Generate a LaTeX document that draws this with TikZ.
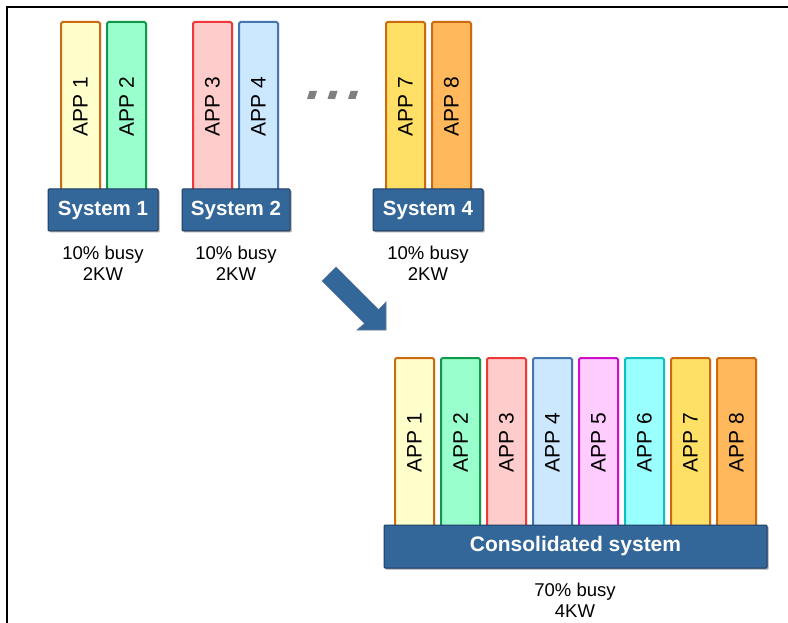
\documentclass[tikz,border=0pt]{standalone}
\usepackage{fontspec}
\setmainfont{Liberation Sans}
\usetikzlibrary{shadows}
\definecolor{sysblue}{HTML}{336699}
\definecolor{sysedge}{HTML}{1F3D66}
\definecolor{fA}{HTML}{FFFFCC}\definecolor{dA}{HTML}{CC6A10}
\definecolor{fB}{HTML}{99FFCC}\definecolor{dB}{HTML}{10994A}
\definecolor{fC}{HTML}{FFCCCC}\definecolor{dC}{HTML}{F03838}
\definecolor{fD}{HTML}{CCE8FF}\definecolor{dD}{HTML}{4477B0}
\definecolor{fE}{HTML}{FFCCFF}\definecolor{dE}{HTML}{CC10CC}
\definecolor{fF}{HTML}{99FFFF}\definecolor{dF}{HTML}{10C0C0}
\definecolor{fG}{HTML}{FFE066}\definecolor{dG}{HTML}{CC6A10}
\definecolor{fH}{HTML}{FFB85C}\definecolor{dH}{HTML}{CC6A10}
\definecolor{dotgray}{HTML}{7F7F7F}
\tikzset{
  appbar/.style={draw, line width=2pt, rounded corners=1.5pt, minimum width=39pt,
    minimum height=169pt, inner sep=0pt, anchor=north,
    drop shadow={shadow xshift=1.2pt, shadow yshift=-0.8pt, fill=black, opacity=0.3},
    font=\fontsize{21}{25}\selectfont},
  sysbox/.style={draw=sysedge, line width=1pt, fill=sysblue, text=white, inner sep=0pt,
    rounded corners=1pt,
    drop shadow={shadow xshift=1.5pt, shadow yshift=-1.5pt, fill=black, opacity=0.35},
    font=\bfseries\fontsize{20.5}{24}\selectfont},
  loadtext/.style={align=center, inner sep=0pt, font=\fontsize{18.5}{21}\selectfont},
  dotmark/.style={fill=dotgray},
  bigarrow/.style={fill=sysblue, draw=sysedge!70, line width=0.6pt}
}
\newcommand{\apptext}[1]{\rotatebox{90}{APP #1}}
\begin{document}
\begin{tikzpicture}[x=1pt,y=-1pt]
\useasboundingbox (0,0) rectangle (788,623);
\fill[white] (0,0) rectangle (788,623);
% frame
\draw[line width=1.5pt] (7,623) -- (7,7) -- (788,7);

% top row bars
\node[appbar, fill=fA, draw=dA] (t1) at (80.5,21) {\apptext{1}};
\node[appbar, fill=fB, draw=dB] (t2) at (126.5,21) {\apptext{2}};
\node[appbar, fill=fC, draw=dC] (t3) at (212.5,21) {\apptext{3}};
\node[appbar, fill=fD, draw=dD] (t4) at (258.5,21) {\apptext{4}};
\node[appbar, fill=fG, draw=dG] (t7) at (405.5,21) {\apptext{7}};
\node[appbar, fill=fH, draw=dH] (t8) at (451.5,21) {\apptext{8}};

% systems
\node[sysbox, minimum width=110pt, minimum height=42pt] (s1) at (103,210) {System 1};
\node[sysbox, minimum width=108pt, minimum height=42pt] (s2) at (236,210) {System 2};
\node[sysbox, minimum width=110pt, minimum height=42pt] (s4) at (428,210) {System 4};

\node[loadtext, anchor=north] (l1) at (103,246) {10\% busy\\2KW};
\node[loadtext, anchor=north] (l2) at (236,246) {10\% busy\\2KW};
\node[loadtext, anchor=north] (l4) at (428,246) {10\% busy\\2KW};

% ellipsis dots
\fill[dotmark] (307,99) -- (309.5,91) -- (317,91) -- (314.5,99) -- cycle;
\fill[dotmark] (327.5,99) -- (330,91) -- (337.5,91) -- (335,99) -- cycle;
\fill[dotmark] (348,99) -- (350.5,91) -- (358,91) -- (355.5,99) -- cycle;

% block arrow
\filldraw[bigarrow] (322,281) -- (336,267) -- (378.5,309.5) -- (386,302) -- (386,330)
  -- (357,330) -- (364.5,323.5) -- cycle;

% bottom row bars
\node[appbar, fill=fA, draw=dA] (b1) at (414.5,357) {\apptext{1}};
\node[appbar, fill=fB, draw=dB] (b2) at (460.5,357) {\apptext{2}};
\node[appbar, fill=fC, draw=dC] (b3) at (506.5,357) {\apptext{3}};
\node[appbar, fill=fD, draw=dD] (b4) at (552.5,357) {\apptext{4}};
\node[appbar, fill=fE, draw=dE] (b5) at (598.5,357) {\apptext{5}};
\node[appbar, fill=fF, draw=dF] (b6) at (644.5,357) {\apptext{6}};
\node[appbar, fill=fG, draw=dG] (b7) at (690.5,357) {\apptext{7}};
\node[appbar, fill=fH, draw=dH] (b8) at (736.5,357) {\apptext{8}};

\node[sysbox, minimum width=383pt, minimum height=43pt,
  font=\bfseries\fontsize{21}{25}\selectfont] (cs) at (575.5,546.5) {Consolidated system};
\node[loadtext, anchor=north] (lc) at (575,583) {70\% busy\\4KW};
\end{tikzpicture}
\end{document}
